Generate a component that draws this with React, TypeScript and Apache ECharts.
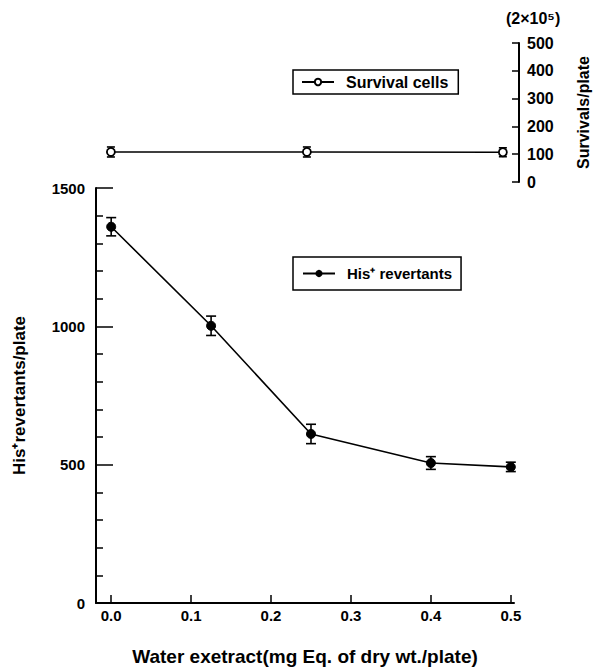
import React, { useEffect, useRef } from "react";
import * as echarts from "echarts";

const hisDose = [0, 0.125, 0.25, 0.4, 0.5];
const hisRevertants = [1360, 1002, 611, 506, 492];
const hisError = [33, 35, 35, 23, 17];
const survivalDose = [0, 0.25, 0.5];
const survivalCells = [108, 108, 107];
const survivalError = [18, 18, 16];
const xTickValues = [0, 0.1, 0.2, 0.3, 0.4, 0.5];
const FONT = "'Liberation Sans', Arial, Helvetica, sans-serif";

const X_MIN = -0.019;
const X_MAX = 0.504;

function errorData(xs: number[], ys: number[], es: number[]) {
  return xs.map((x, i) => [x, ys[i], ys[i] - es[i], ys[i] + es[i]]);
}

function errorRender(cap: number) {
  return (params: any, api: any) => {
    const x = api.value(0);
    const lo = api.coord([x, api.value(2)]);
    const hi = api.coord([x, api.value(3)]);
    const st = { stroke: "#000", lineWidth: 1.6 };
    return {
      type: "group",
      children: [
        { type: "line", shape: { x1: lo[0], y1: lo[1], x2: hi[0], y2: hi[1] }, style: st },
        { type: "line", shape: { x1: lo[0] - cap, y1: lo[1], x2: lo[0] + cap, y2: lo[1] }, style: st },
        { type: "line", shape: { x1: hi[0] - cap, y1: hi[1], x2: hi[0] + cap, y2: hi[1] }, style: st },
      ],
    };
  };
}

export default function App() {
  const ref = useRef<HTMLDivElement>(null);
  useEffect(() => {
    document.body.style.margin = "0";
    const chart = echarts.init(ref.current!, null, { renderer: "svg" });
    const axisTextBase = { color: "#000", fontFamily: FONT, fontWeight: "bold" as const };
    chart.setOption({
      animation: false,
      backgroundColor: "#fff",
      textStyle: { fontFamily: FONT },
      grid: [
        { left: 96, right: 85, top: 188, bottom: 69 },
        { left: 96, right: 85, top: 43, height: 139 },
      ],
      xAxis: [
        {
          type: "value",
          gridIndex: 0,
          min: X_MIN,
          max: X_MAX,
          splitLine: { show: false },
          axisLine: { onZero: false, lineStyle: { color: "#000", width: 2 } },
          axisTick: { inside: true, length: 8, customValues: xTickValues, lineStyle: { color: "#000", width: 1.5 } },
          axisLabel: {
            ...axisTextBase,
            fontSize: 15,
            margin: 5,
            customValues: xTickValues,
            formatter: (v: number) => v.toFixed(1),
          },
          name: "Water exetract(mg Eq. of dry wt./plate)",
          nameLocation: "middle",
          nameGap: 44,
          nameTextStyle: { ...axisTextBase, fontSize: 19 },
        },
        {
          type: "value",
          gridIndex: 1,
          min: X_MIN,
          max: X_MAX,
          show: false,
          splitLine: { show: false },
          axisLine: { onZero: false },
        },
      ],
      yAxis: [
        {
          type: "value",
          gridIndex: 0,
          min: 0,
          max: 1500,
          interval: 500,
          splitLine: { show: false },
          axisLine: { show: true, onZero: false, lineStyle: { color: "#000", width: 2 } },
          axisTick: { show: true, inside: true, length: 17, lineStyle: { color: "#000", width: 1.5 } },
          minorTick: { show: true, splitNumber: 5, length: 7, lineStyle: { color: "#000", width: 1.5 } },
          axisLabel: { ...axisTextBase, fontSize: 15, margin: 11, formatter: (v: number) => String(v) },
          name: "His\u207Arevertants/plate",
          nameLocation: "middle",
          nameRotate: 90,
          nameGap: 68,
          nameTextStyle: { ...axisTextBase, fontSize: 17 },
        },
        {
          type: "value",
          gridIndex: 1,
          position: "right",
          offset: 13,
          min: 0,
          max: 500,
          interval: 100,
          splitLine: { show: false },
          axisLine: { show: true, onZero: false, lineStyle: { color: "#000", width: 2 } },
          axisTick: { show: true, inside: true, length: 7, lineStyle: { color: "#000", width: 1.5 } },
          axisLabel: { ...axisTextBase, fontSize: 16, margin: 8, formatter: (v: number) => String(v) },
          name: "Survivals/plate",
          nameLocation: "middle",
          nameRotate: 90,
          nameGap: 56,
          nameTextStyle: { ...axisTextBase, fontSize: 16 },
        },
      ],
      legend: [
        {
          data: ["Survival cells"],
          left: 293,
          top: 70,
          padding: [4, 10, 4, 8],
          borderColor: "#000",
          borderWidth: 1.5,
          itemWidth: 32,
          itemHeight: 8,
          textStyle: { ...axisTextBase, fontSize: 16, padding: [0, 0, 0, 7] },
        },
        {
          data: ["His\u207A revertants"],
          left: 293,
          top: 257,
          padding: [9, 9, 9, 9],
          borderColor: "#000",
          borderWidth: 1.5,
          itemWidth: 32,
          itemHeight: 9,
          textStyle: { ...axisTextBase, fontSize: 15, padding: [0, 0, 0, 7] },
        },
      ],
      series: [
        {
          type: "custom",
          name: "hisErr",
          xAxisIndex: 0,
          yAxisIndex: 0,
          renderItem: errorRender(5),
          encode: { x: 0, y: [1, 2, 3] },
          data: errorData(hisDose, hisRevertants, hisError),
          z: 2,
        },
        {
          type: "custom",
          name: "survErr",
          xAxisIndex: 1,
          yAxisIndex: 1,
          renderItem: errorRender(4),
          encode: { x: 0, y: [1, 2, 3] },
          data: errorData(survivalDose, survivalCells, survivalError),
          z: 2,
        },
        {
          type: "line",
          name: "His\u207A revertants",
          xAxisIndex: 0,
          yAxisIndex: 0,
          data: hisDose.map((x, i) => [x, hisRevertants[i]]),
          symbol: "circle",
          symbolSize: 9,
          itemStyle: { color: "#000", borderColor: "#000" },
          lineStyle: { color: "#000", width: 1.6 },
          z: 3,
        },
        {
          type: "line",
          name: "Survival cells",
          xAxisIndex: 1,
          yAxisIndex: 1,
          data: survivalDose.map((x, i) => [x, survivalCells[i]]),
          symbol: "circle",
          symbolSize: 8,
          itemStyle: { color: "#fff", borderColor: "#000", borderWidth: 1.8 },
          lineStyle: { color: "#000", width: 1.6 },
          z: 3,
        },
      ],
      graphic: [
        {
          type: "text",
          left: 506,
          top: 10,
          style: { text: "(2\u00D710\u2075)", fill: "#000", font: `bold 16px ${FONT}` },
        },
      ],
    });
    return () => chart.dispose();
  }, []);
  return <div ref={ref} style={{ position: "fixed", left: 0, top: 0, width: 599, height: 672 }} />;
}
